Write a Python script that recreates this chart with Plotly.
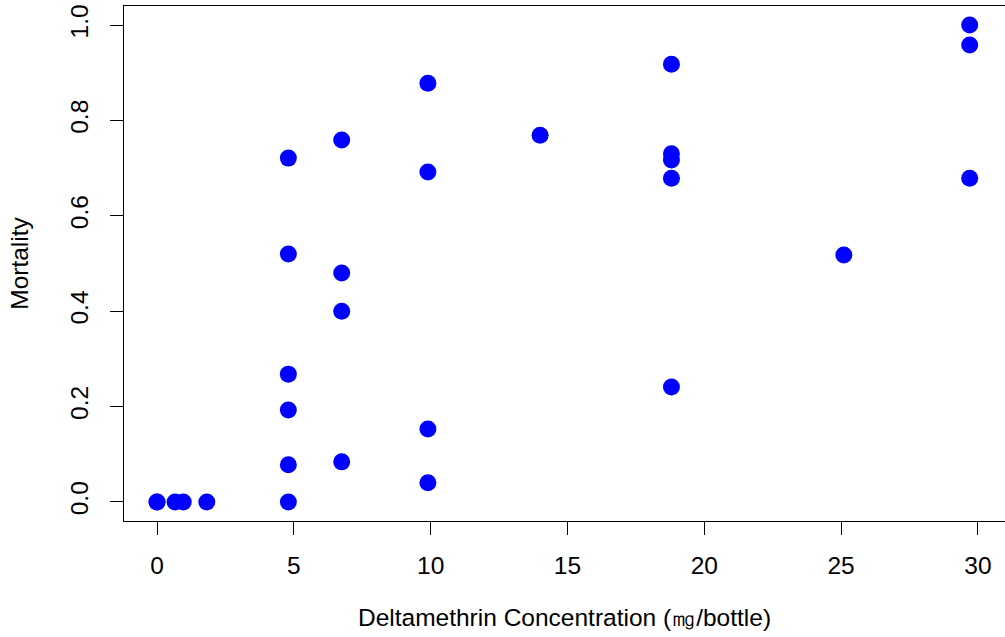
import plotly.graph_objects as go

# Deltamethrin concentration (x) and mortality (y)
concentration = [0, 0, 0.66, 0.96, 1.82,
                 4.8, 4.8, 4.8, 4.8, 4.8, 4.8,
                 6.75, 6.75, 6.75, 6.75,
                 9.9, 9.9, 9.9, 9.9,
                 14.0,
                 18.8, 18.8, 18.8, 18.8, 18.8,
                 25.1,
                 29.7, 29.7, 29.7]
mortality = [0, 0, 0, 0, 0,
             0.721, 0.520, 0.268, 0.193, 0.078, 0.0,
             0.759, 0.480, 0.400, 0.084,
             0.878, 0.692, 0.153, 0.040,
             0.769,
             0.918, 0.730, 0.717, 0.679, 0.241,
             0.518,
             1.0, 0.958, 0.679]

x_ticks = [0, 5, 10, 15, 20, 25, 30]
y_ticks = [0.0, 0.2, 0.4, 0.6, 0.8, 1.0]
y_tick_labels = ["0.0", "0.2", "0.4", "0.6", "0.8", "1.0"]

FONT = "Liberation Sans, Arial, Helvetica, sans-serif"
FS = 24.5

fig = go.Figure(
    go.Scatter(
        x=concentration, y=mortality, mode="markers",
        marker=dict(color="#0000FF", size=17, line=dict(width=0)),
        hoverinfo="x+y",
    )
)

fig.update_layout(
    width=1005, height=637,
    margin=dict(l=124, r=0, t=6, b=116),
    paper_bgcolor="white", plot_bgcolor="white",
    font=dict(family=FONT, size=FS, color="black"),
    showlegend=False,
)

fig.update_xaxes(
    range=[-1.206, 30.99],
    tickvals=x_ticks, ticktext=[str(v) for v in x_ticks],
    ticks="outside", ticklen=13, tickwidth=1, tickcolor="black",
    ticklabelstandoff=9,
    showline=True, linecolor="black", linewidth=1.2, mirror=True,
    showgrid=False, zeroline=False,
    title=dict(text="Deltamethrin Concentration (㎎/bottle)", standoff=31,
               font=dict(size=FS)),
)
fig.update_yaxes(
    range=[-0.04, 1.04],
    tickvals=y_ticks, ticktext=y_tick_labels, tickangle=-90,
    ticks="outside", ticklen=13, tickwidth=1, tickcolor="black",
    ticklabelstandoff=12,
    showline=True, linecolor="black", linewidth=1.2, mirror=False,
    showgrid=False, zeroline=False,
    title=dict(text="Mortality", standoff=30, font=dict(size=FS)),
)

fig.write_html("out.html", config={"displayModeBar": False},
               post_script="document.body.style.margin='0px';")
